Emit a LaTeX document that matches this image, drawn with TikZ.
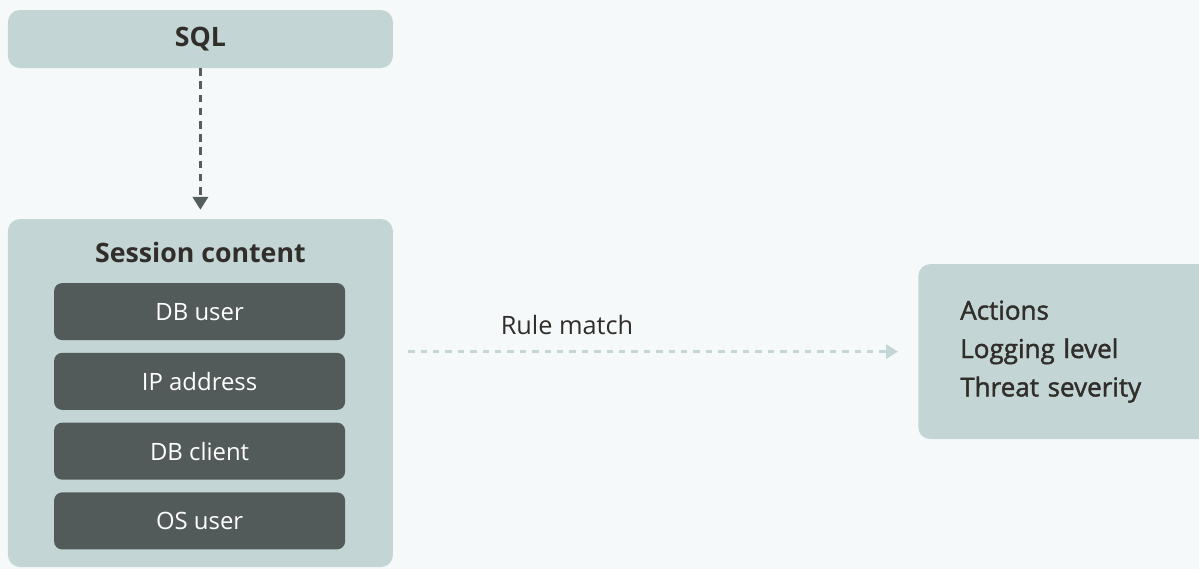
\documentclass[tikz,border=0pt]{standalone}
\usepackage{fontspec}
\setmainfont{Open Sans}
\newfontfamily\semifont[FakeBold=1.6]{Open Sans}
\usepackage{tikz}
\usetikzlibrary{arrows.meta,positioning,backgrounds}

\definecolor{bgpale}{HTML}{F6F9FA}
\definecolor{sage}{HTML}{C3D5D4}
\definecolor{slate}{HTML}{525B59}
\definecolor{ink}{HTML}{312D2A}
\definecolor{arrowgray}{HTML}{545E5C}
\definecolor{dashpale}{HTML}{C4D6D5}

\begin{document}
\begin{tikzpicture}[
  panel/.style={fill=sage, rounded corners=3mm, minimum width=96.25mm, inner sep=0pt},
  field/.style={fill=slate, rounded corners=2mm, minimum width=72.75mm, minimum height=14.25mm, text=white, font=\fontsize{17}{20}\selectfont},
  head/.style={text=ink, font=\fontsize{19}{23}\selectfont\bfseries},
  arrow/.style={-{Triangle[length=3.2mm,width=3.8mm]}, draw=arrowgray, line width=0.7mm, dash pattern=on 1.9mm off 1.4mm},
  match/.style={-{Triangle[length=3mm,width=3.6mm]}, draw=dashpale, line width=0.6mm, dash pattern=on 1.6mm off 1.5mm},
]
\def\fieldgap{3.05mm}   % gap between the session fields
\def\tipgap{2.25mm}     % space left before the session box

\fill[bgpale] (0,0) rectangle (299.75mm,-142.25mm);
\useasboundingbox (0,0) rectangle (299.75mm,-142.25mm);

\node[panel, minimum height=14.5mm, head] (sql) at (50.1mm,-9.75mm) {SQL};
\node[panel, minimum height=87mm] (session) at (50.1mm,-98.25mm) {};
\node[head] (sestitle) at (50.1mm,-63mm) {Session content};

\node[field] (dbuser) at (49.9mm,-77.9mm) {DB user};
\node[field, below=\fieldgap of dbuser] (ipaddr) {IP address};
\node[field, below=\fieldgap of ipaddr] (dbclient) {DB client};
\node[field, below=\fieldgap of dbclient] (osuser) {OS user};

\node[panel, anchor=west, minimum width=80mm, minimum height=43.75mm, text width=59mm, inner xsep=10.5mm, align=left, text=ink, font=\semifont\fontsize{18.5}{27.3}\selectfont] (outcome) at (229.5mm,-87.9mm) {Actions\\Logging level\\Threat severity};

\draw[arrow, shorten >=\tipgap] (sql.south) -- (session.north);
\draw[match, shorten <=3.75mm, shorten >=5mm] (session.east |- outcome.west) -- (outcome.west);
\node[text=ink, font=\fontsize{18}{22}\selectfont] (rulematch) at (141.75mm,-81.25mm) {Rule match};
\end{tikzpicture}
\end{document}
